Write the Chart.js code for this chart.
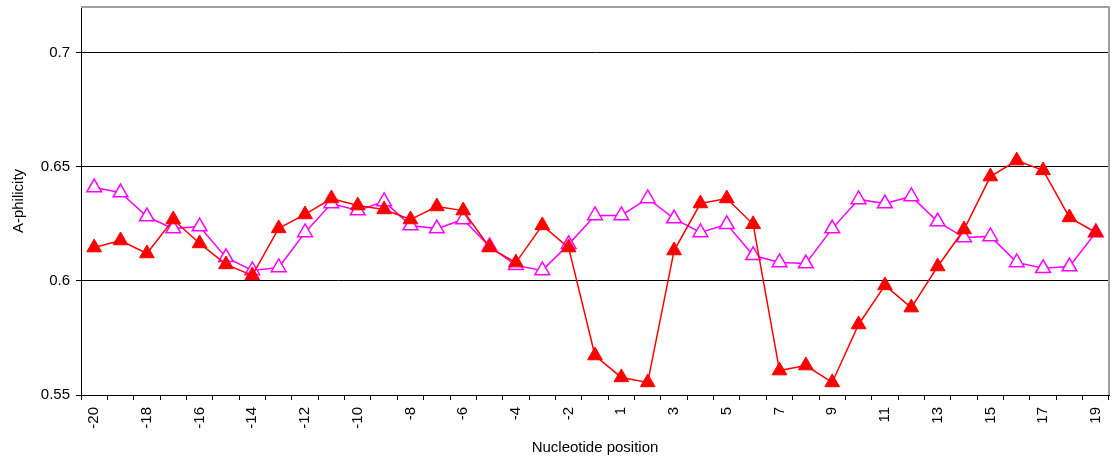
<!DOCTYPE html>
<html>
<head>
<meta charset="utf-8">
<script src="https://cdn.jsdelivr.net/npm/chart.js@4"></script>
<style>
  html, body { margin: 0; padding: 0; background: #fff; }
  canvas { display: block; }
</style>
</head>
<body>
<canvas id="c" width="1112" height="463"></canvas>
<script>
const positions = ['-20','-19','-18','-17','-16','-15','-14','-13','-12','-11','-10','-9','-8','-7','-6','-5','-4','-3','-2','-1',
  '1','2','3','4','5','6','7','8','9','10','11','12','13','14','15','16','17','18','19'];

const seriesFilled = [0.6146,0.6177,0.6120,0.6269,0.6164,0.6072,0.6024,0.6230,0.6291,0.6361,0.6330,0.6313,0.6269,0.6326,0.6308,0.6146,0.6080,0.6243,0.6146,0.5673,
  0.5577,0.5555,0.6133,0.6339,0.6361,0.6248,0.5607,0.5629,0.5555,0.5809,0.5980,0.5883,0.6063,0.6225,0.6457,0.6527,0.6484,0.6278,0.6212];

const seriesHollow = [0.6409,0.6387,0.6282,0.6229,0.6238,0.6103,0.6046,0.6059,0.6212,0.6339,0.6308,0.6348,0.6243,0.6229,0.6269,0.6151,0.6068,0.6046,0.6160,0.6287,
  0.6287,0.6361,0.6273,0.6212,0.6248,0.6112,0.6081,0.6076,0.6229,0.6357,0.6339,0.6370,0.6260,0.6190,0.6195,0.6081,0.6055,0.6063,0.6212];

const yTicks = [0.55, 0.6, 0.65, 0.7];
const yMin = 0.55, yMax = 0.72;

const font = { family: "'Liberation Sans', Arial, sans-serif", size: 15 };

const frame = {
  id: 'frame',
  afterDraw(chart) {
    const { ctx, chartArea: a } = chart;
    ctx.save();
    ctx.strokeStyle = '#a0a0a0';
    ctx.lineWidth = 2;
    ctx.beginPath();
    ctx.moveTo(a.left, a.top);
    ctx.lineTo(a.right, a.top);
    ctx.lineTo(a.right, a.bottom);
    ctx.stroke();
    ctx.restore();
  }
};

function noPad(s) { s.paddingTop = 0; s.paddingBottom = 0; s.paddingLeft = 0; s.paddingRight = 0; }

new Chart(document.getElementById('c'), {
  type: 'line',
  data: {
    labels: positions,
    datasets: [
      {
        data: seriesFilled,
        borderColor: '#ff0000',
        backgroundColor: '#ff0000',
        borderWidth: 1.5,
        pointStyle: 'triangle',
        pointRadius: 8.5,
        pointBorderWidth: 1,
        pointBackgroundColor: '#ff0000',
        pointBorderColor: '#ff0000',
        tension: 0
      },
      {
        data: seriesHollow,
        borderColor: '#ff00ff',
        backgroundColor: '#ffffff',
        borderWidth: 1.5,
        pointStyle: 'triangle',
        pointRadius: 8.5,
        pointBorderWidth: 1.5,
        pointBackgroundColor: '#ffffff',
        pointBorderColor: '#ff00ff',
        tension: 0
      }
    ]
  },
  options: {
    responsive: false,
    devicePixelRatio: 1,
    animation: false,
    layout: { autoPadding: false, padding: { top: 7, right: 3, left: 0, bottom: 0 } },
    plugins: { legend: { display: false }, tooltip: { enabled: false } },
    scales: {
      x: {
        type: 'category',
        offset: true,
        afterFit(s) { s.height = 68; noPad(s); },
        grid: { drawOnChartArea: false, drawTicks: true, tickLength: 5, color: '#000', offset: true },
        border: { color: '#000', width: 1 },
        ticks: {
          autoSkip: false, maxRotation: 90, minRotation: 90, padding: 7,
          color: '#000', font: font,
          callback(v, i) { return i % 2 === 0 ? positions[i] : ''; }
        },
        title: { display: true, text: 'Nucleotide position', color: '#000', font: font, padding: { top: 0, bottom: 6 } }
      },
      y: {
        min: yMin, max: yMax,
        afterFit(s) { s.width = 81; noPad(s); },
        afterBuildTicks(s) { s.ticks = yTicks.map(v => ({ value: v })); },
        grid: { color: '#000', lineWidth: 1, tickLength: 5, drawTicks: true },
        border: { color: '#000', width: 1 },
        ticks: {
          padding: 6, color: '#000', font: font,
          callback(v) { return String(Number(v.toFixed(2))); }
        },
        title: { display: true, text: 'A-philicity', color: '#000', font: font, padding: { top: 10, bottom: 0 } }
      }
    }
  },
  plugins: [frame]
});
</script>
</body>
</html>
